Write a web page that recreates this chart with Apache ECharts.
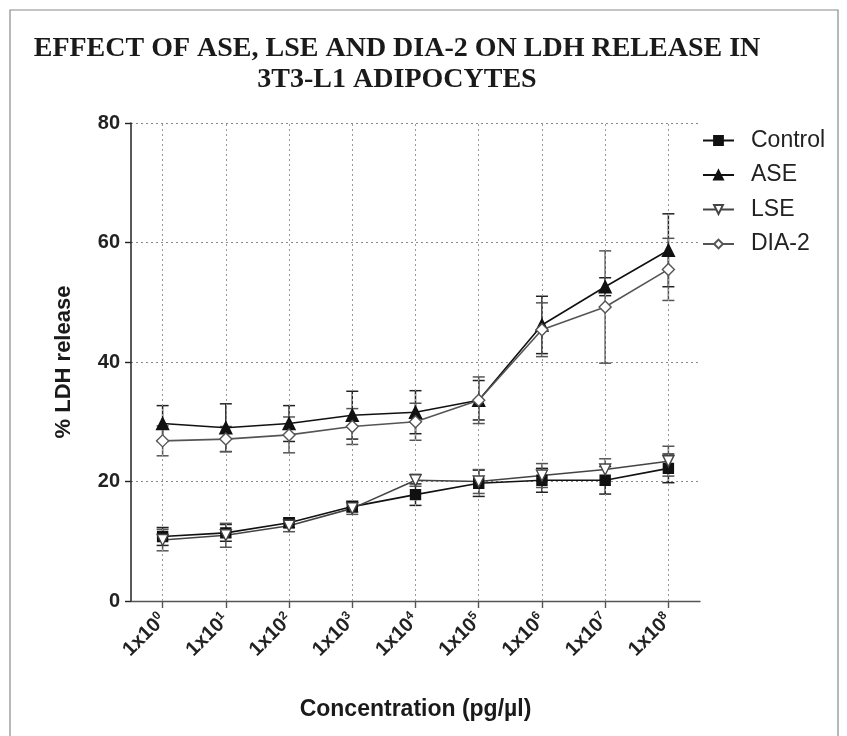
<!DOCTYPE html>
<html>
<head>
<meta charset="utf-8">
<script src="https://cdn.jsdelivr.net/npm/echarts@6/dist/echarts.min.js"></script>
<style>html,body{margin:0;padding:0;background:#fff;}#c{width:847px;height:736px;}</style>
</head>
<body>
<div id="c"></div>
<script>
const categories = ['1x10^0','1x10^1','1x10^2','1x10^3','1x10^4','1x10^5','1x10^6','1x10^7','1x10^8'];
const yTicks = [0, 20, 40, 60, 80];
const seriesNames = ['Control', 'ASE', 'LSE', 'DIA-2'];
const controlVals = [10.8, 11.4, 13.1, 15.8, 17.8, 19.7, 20.2, 20.2, 22.2];
const controlErr  = [1.5, 1.4, 0.8, 0.9, 1.8, 2.2, 2.0, 2.3, 2.4];
const aseVals = [29.7, 29.0, 29.7, 31.1, 31.6, 33.6, 46.2, 52.6, 58.7];
const aseErr  = [3.0, 4.0, 3.0, 4.0, 3.6, 3.3, 4.8, 1.5, 6.1];
const lseVals = [10.2, 11.0, 12.6, 15.5, 20.2, 20.0, 21.0, 22.0, 23.4];
const lseErr  = [1.8, 2.0, 1.0, 1.0, 1.0, 2.0, 2.0, 1.8, 2.5];
const diaVals = [26.8, 27.1, 27.8, 29.2, 30.0, 33.6, 45.4, 49.2, 55.5];
const diaErr  = [2.5, 2.1, 3.0, 3.0, 3.1, 3.9, 4.5, 9.4, 5.2];

const idx = categories.map((c, i) => i);
const downTri = 'path://M0,0 L10,0 L5,9 Z';

function lineSeries(name, vals, symbol, fill, color, size, withGrid) {
  const s = {
    name: name, type: 'line', data: vals.map((v, i) => [i, v]),
    symbol: symbol, symbolSize: size, z: 5,
    lineStyle: { color: color, width: 1.6 },
    itemStyle: { color: fill, borderColor: color, borderWidth: 1.4 }
  };
  if (withGrid) {
    s.markLine = {
      silent: true, symbol: 'none', label: { show: false },
      lineStyle: { color: '#9a9a9a', type: [2, 3], width: 1 },
      data: idx.map(i => ({ xAxis: i }))
    };
  }
  return s;
}
function errSeries(name, vals, errs, color) {
  return {
    name: name + ' SEM', type: 'custom', z: 3, silent: true,
    data: vals.map((v, i) => [i, v, errs[i]]),
    renderItem: function (params, api) {
      const x = api.value(0), v = api.value(1), e = api.value(2);
      const top = api.coord([x, v + e]);
      const bot = api.coord([x, v - e]);
      const st = { stroke: color, lineWidth: 1.5 };
      return { type: 'group', children: [
        { type: 'line', shape: { x1: top[0], y1: top[1], x2: bot[0], y2: bot[1] }, style: st },
        { type: 'line', shape: { x1: top[0] - 6, y1: top[1], x2: top[0] + 6, y2: top[1] }, style: st },
        { type: 'line', shape: { x1: bot[0] - 6, y1: bot[1], x2: bot[0] + 6, y2: bot[1] }, style: st }
      ]};
    }
  };
}

const chart = echarts.init(document.getElementById('c'));
chart.setOption({
  backgroundColor: '#fff',
  animation: false,
  graphic: [{
    type: 'rect', shape: { x: 10, y: 10, width: 828, height: 740 },
    style: { fill: 'none', stroke: '#8a8a8a', lineWidth: 1.2 }, silent: true
  }],
  title: {
    text: 'EFFECT OF ASE, LSE AND DIA-2 ON LDH RELEASE IN\n3T3-L1 ADIPOCYTES',
    left: 397, top: 33, textAlign: 'center', padding: 0,
    textStyle: { fontFamily: 'Liberation Serif', fontWeight: 'bold', fontSize: 28, color: '#1a1a1a', lineHeight: 31 }
  },
  legend: {
    orient: 'vertical', left: 697, top: 124, itemGap: 11.5, itemWidth: 31, itemHeight: 11,
    data: seriesNames,
    textStyle: { fontFamily: 'Liberation Sans', fontSize: 23, color: '#222', lineHeight: 22, padding: [0, 0, 0, 12] }
  },
  grid: { left: 131, right: 147, top: 123, bottom: 135 },
  xAxis: {
    type: 'value', min: -0.5, max: 8.5,
    name: 'Concentration (pg/\u00b5l)', nameLocation: 'middle', nameGap: 97,
    nameTextStyle: { fontFamily: 'Liberation Sans', fontWeight: 'bold', fontSize: 23, color: '#1a1a1a' },
    axisLine: { onZero: false, lineStyle: { color: '#555', width: 1.4 } },
    axisTick: { customValues: idx, length: 7, lineStyle: { color: '#555', width: 1.4 } },
    axisLabel: {
      customValues: idx, rotate: 45, margin: 16,
      formatter: function (v) {
        const p = categories[Math.round(v)].split('^');
        return '{b|' + p[0] + '}{s|' + p[1] + '}';
      },
      rich: {
        b: { fontFamily: 'Liberation Sans', fontWeight: 'bold', fontSize: 20, color: '#222' },
        s: { fontFamily: 'Liberation Sans', fontWeight: 'bold', fontSize: 12, color: '#222', verticalAlign: 'top', padding: [0, 0, 10, 0] }
      }
    },
    splitLine: { show: false }
  },
  yAxis: {
    type: 'value', min: yTicks[0], max: yTicks[yTicks.length - 1], interval: 20,
    name: '% LDH release', nameLocation: 'middle', nameGap: 56,
    nameTextStyle: { fontFamily: 'Liberation Sans', fontWeight: 'bold', fontSize: 22, color: '#1a1a1a' },
    axisLine: { show: true, onZero: false, lineStyle: { color: '#222', width: 1.5 } },
    axisTick: { show: true, length: 6, lineStyle: { color: '#222', width: 1.4 } },
    axisLabel: { fontFamily: 'Liberation Sans', fontWeight: 'bold', fontSize: 20, color: '#222', margin: 11 },
    splitLine: { show: true, lineStyle: { color: '#8a8a8a', type: [2, 3], width: 1 } }
  },
  series: [
    errSeries('Control', controlVals, controlErr, '#222'),
    errSeries('ASE', aseVals, aseErr, '#222'),
    errSeries('LSE', lseVals, lseErr, '#555'),
    errSeries('DIA-2', diaVals, diaErr, '#555'),
    lineSeries('Control', controlVals, 'rect', '#111', '#111', 10, true),
    lineSeries('ASE', aseVals, 'triangle', '#111', '#111', 12, false),
    lineSeries('LSE', lseVals, downTri, '#fff', '#444', 11, false),
    lineSeries('DIA-2', diaVals, 'diamond', '#fff', '#555', 12, false)
  ]
});
</script>
</body>
</html>
